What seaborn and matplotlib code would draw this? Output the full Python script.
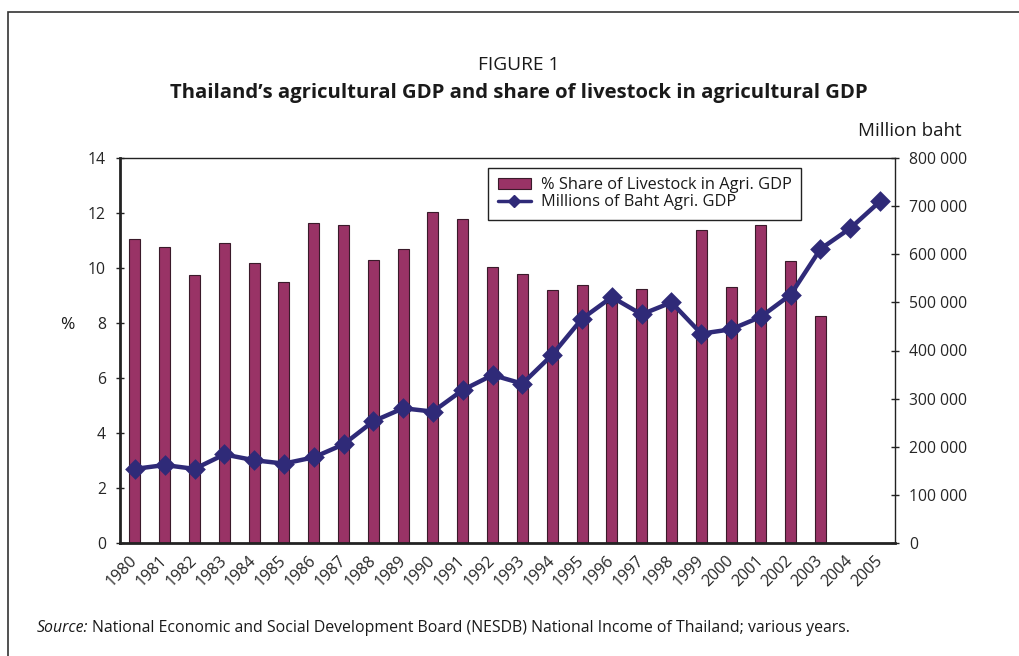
import numpy as np
import pandas as pd
import matplotlib
matplotlib.use("Agg")
import matplotlib.pyplot as plt
from matplotlib.patches import Rectangle, Patch
from matplotlib.lines import Line2D
import seaborn as sns

years = [str(y) for y in range(1980, 2006)]

# % share of livestock in agricultural GDP (no figures for 2004-2005)
livestock_share = [11.05, 10.75, 9.75, 10.90, 10.20, 9.50, 11.65, 11.58, 10.30, 10.68,
                   12.02, 11.79, 10.02, 9.80, 9.20, 9.39, 8.72, 9.23, 8.72, 11.40,
                   9.31, 11.55, 10.27, 8.27, np.nan, np.nan]

# agricultural GDP, millions of baht
agri_gdp = [154000, 162000, 154000, 184000, 172000, 165000, 178000, 205000, 253000, 280000,
            273000, 318000, 349000, 331000, 391000, 466000, 511000, 475000, 500000, 435000,
            444000, 470000, 516000, 611000, 654000, 710000]

left_ticks = [0, 2, 4, 6, 8, 10, 12, 14]
right_ticks = [0, 100000, 200000, 300000, 400000, 500000, 600000, 700000, 800000]

bar_color = "#993366"
line_color = "#2F2A78"

df = pd.DataFrame({"year": years, "share": livestock_share, "gdp": agri_gdp})

sns.set_theme(style="white")
plt.rcParams["font.family"] = ["Open Sans", "DejaVu Sans"]
plt.rcParams["text.color"] = "#1a1a1a"

TICK_FS = 11.3

W, H = 1019, 656
fig = plt.figure(figsize=(W / 100, H / 100), dpi=100)
ax = fig.add_axes([120 / W, 1 - 543 / H, (895 - 120) / W, (543 - 158) / H])

sns.barplot(data=df.dropna(subset=["share"]), x="year", y="share", order=years,
            color=bar_color, saturation=1, width=0.37, edgecolor="#3a1a2a",
            linewidth=0.8, ax=ax)

ax2 = ax.twinx()
sns.pointplot(data=df, x="year", y="gdp", order=years, color=line_color,
              markers="D", markersize=8, linewidth=3.2, errorbar=None, ax=ax2)

for a in (ax, ax2):
    a.set_xlim(-0.5, len(years) - 0.5)
    a.set_xlabel("")
    a.set_ylabel("")

ax.set_ylim(0, 14)
ax.set_yticks(left_ticks)
ax.set_yticklabels([str(t) for t in left_ticks], fontsize=TICK_FS)
ax2.set_ylim(0, 800000)
ax2.set_yticks(right_ticks)
ax2.set_yticklabels([f"{t:,}".replace(",", " ") for t in right_ticks], fontsize=TICK_FS)

# year labels at category centres, tick marks on category boundaries
ax.set_xticks(np.arange(len(years) + 1) - 0.5)
ax.set_xticklabels([])
ax.set_xticks(np.arange(len(years)), minor=True)
ax.set_xticklabels(years, minor=True, rotation=45, ha="right", va="center",
                   rotation_mode="anchor", fontsize=11.6)
ax.tick_params(axis="x", which="minor", length=0, pad=11)
ax.tick_params(axis="x", which="major", direction="inout", length=6, width=1, color="#222222")
ax.tick_params(axis="y", direction="inout", length=6, width=1, color="#222222", pad=7, left=True)
ax2.tick_params(axis="y", direction="inout", length=6, width=1, color="#222222", pad=7, right=True)

for s in ("left", "bottom"):
    ax.spines[s].set_linewidth(2.0)
    ax.spines[s].set_color("#222222")
for s in ("top", "right"):
    ax.spines[s].set_linewidth(1.0)
    ax.spines[s].set_color("#222222")
for s in ax2.spines.values():
    s.set_visible(False)
ax.grid(False)
ax2.grid(False)

handles = [Patch(facecolor=bar_color, edgecolor="#3a1a2a", linewidth=0.8),
           Line2D([], [], color=line_color, lw=2.5, marker="D", markersize=6)]
leg = ax2.legend(handles, ["% Share of Livestock in Agri. GDP", "Millions of Baht Agri. GDP"],
                 loc="upper left", bbox_to_anchor=(0.475, 0.975), fontsize=11.8,
                 frameon=True, fancybox=False, shadow=False, borderpad=0.6,
                 handlelength=2.0, handletextpad=0.6, labelspacing=0.05,
                 borderaxespad=0)
leg.get_frame().set_edgecolor("#222222")
leg.get_frame().set_linewidth(1.0)
leg.get_frame().set_facecolor("white")
leg.get_frame().set_alpha(1)

fig.text(519 / W, 1 - 65 / H, "FIGURE 1", ha="center", va="center", fontsize=13.8)
fig.text(519 / W, 1 - 93 / H,
         "Thailand\u2019s agricultural GDP and share of livestock in agricultural GDP",
         ha="center", va="center", fontsize=14.6, fontweight="bold")
fig.text(962 / W, 1 - 131 / H, "Million baht", ha="right", va="center", fontsize=13.5)
fig.text(67 / W, 1 - 325 / H, "%", ha="center", va="center", fontsize=12.5)

src_label = fig.text(37 / W, 1 - 628 / H, "Source:", ha="left", va="center",
                     fontsize=11.4, style="italic")
fig.canvas.draw()
ext = src_label.get_window_extent()
fig.text(ext.x1 / W + 3 / W, 1 - 628 / H,
         "National Economic and Social Development Board (NESDB) National Income of Thailand; various years.",
         ha="left", va="center", fontsize=11.4)

fig.patches.append(Rectangle((8 / W, -0.05), 1.1, 1 - 12 / H + 0.05, transform=fig.transFigure,
                             fill=False, edgecolor="#333333", linewidth=1.2, zorder=0))

fig.savefig("out.png", dpi=100)
